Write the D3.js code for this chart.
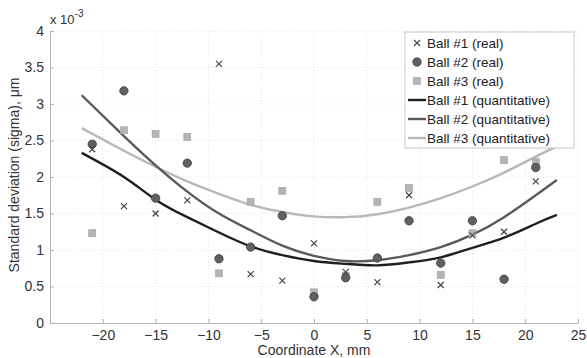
<!DOCTYPE html>
<html>
<head>
<meta charset="utf-8">
<script src="https://cdn.jsdelivr.net/npm/d3@7"></script>
<style>
  body { margin: 0; background: #fff; }
  svg { display: block; font-family: "Liberation Sans", Arial, sans-serif; }
</style>
</head>
<body>
<div id="chart"></div>
<script>
// measured positions (mm) and sigma values (x 10^-3 um)
const positions = [-21, -18, -15, -12, -9, -6, -3, 0, 3, 6, 9, 12, 15, 18, 21];
const ball1Real = [2.38, 1.60, 1.50, 1.68, 3.55, 0.67, 0.58, 1.09, 0.70, 0.56, 1.75, 0.52, 1.20, 1.25, 1.94];
const ball2Real = [2.45, 3.18, 1.71, 2.19, 0.88, 1.04, 1.47, 0.36, 0.62, 0.89, 1.40, 0.82, 1.40, 0.60, 2.13];
const ball3Real = [1.23, 2.64, 2.59, 2.55, 0.68, 1.66, 1.81, 0.42, 0.65, 1.66, 1.85, 0.66, 1.23, 2.23, 2.21];

// fitted curves
const fitX = [-22, -18, -15, -12, -9, -6, -3, 0, 3, 6, 9, 12, 15, 18, 21, 23];
const ball1Fit = [2.33, 2.00, 1.69, 1.45, 1.24, 1.05, 0.93, 0.85, 0.81, 0.79, 0.83, 0.90, 1.03, 1.17, 1.36, 1.48];
const ball2Fit = [3.12, 2.56, 2.16, 1.80, 1.50, 1.27, 1.06, 0.92, 0.85, 0.86, 0.93, 1.04, 1.21, 1.45, 1.75, 1.96];
const ball3Fit = [2.67, 2.36, 2.14, 1.94, 1.77, 1.62, 1.52, 1.46, 1.45, 1.49, 1.58, 1.71, 1.87, 2.06, 2.28, 2.42];

const xTicks = [-20, -15, -10, -5, 0, 5, 10, 15, 20, 25];
const yTicks = [0, 0.5, 1, 1.5, 2, 2.5, 3, 3.5, 4];
const legendLabels = ["Ball #1 (real)", "Ball #2 (real)", "Ball #3 (real)",
  "Ball #1 (quantitative)", "Ball #2 (quantitative)", "Ball #3 (quantitative)"];

const FONT = "'Liberation Sans', Arial, sans-serif";
const width = 587, height = 358;
const svg = d3.select("#chart").append("svg")
  .attr("width", width)
  .attr("height", height);

const x = d3.scaleLinear().domain([-25, 25]).range([50, 578]);
const y = d3.scaleLinear().domain([0, 4]).range([323, 31]);

// grid
svg.append("g").selectAll("line").data(xTicks).join("line")
  .attr("x1", d => x(d)).attr("x2", d => x(d))
  .attr("y1", y(0)).attr("y2", y(4))
  .attr("stroke", "#e4e4e4").attr("stroke-dasharray", "1,2");
svg.append("g").selectAll("line").data(yTicks.slice(1)).join("line")
  .attr("x1", x(-25)).attr("x2", x(25))
  .attr("y1", d => y(d)).attr("y2", d => y(d))
  .attr("stroke", "#e4e4e4").attr("stroke-dasharray", "1,2");

// axes
const xAxis = svg.append("g")
  .attr("transform", `translate(0,${y(0)})`)
  .call(d3.axisBottom(x).tickValues(xTicks).tickSize(-4).tickPadding(7).tickFormat(d3.format("~g")));
const yAxis = svg.append("g")
  .attr("transform", `translate(${x(-25)},0)`)
  .call(d3.axisLeft(y).tickValues(yTicks).tickSize(-4).tickPadding(6).tickFormat(d3.format("~g")));

[xAxis, yAxis].forEach(a => {
  a.attr("font-family", FONT);
  a.select(".domain").attr("stroke", "#b5b5b5");
  a.selectAll(".tick line").attr("stroke", "#b5b5b5");
  a.selectAll(".tick text").attr("fill", "#333").attr("font-size", 14);
});

// exponent
const expo = svg.append("text")
  .attr("x", 50).attr("y", 24)
  .attr("font-size", 13).attr("fill", "#333");
expo.append("tspan").text("x 10");
expo.append("tspan").attr("dy", -7).attr("font-size", 10).text("-3");

// axis titles
svg.append("text")
  .attr("x", x(0)).attr("y", 355)
  .attr("text-anchor", "middle")
  .attr("font-size", 14).attr("fill", "#333")
  .text("Coordinate X, mm");
svg.append("text")
  .attr("transform", `translate(19,${y(2) - 2}) rotate(-90)`)
  .attr("text-anchor", "middle")
  .attr("font-size", 14).attr("fill", "#333")
  .text("Standard deviation (sigma), μm");

// fitted curves
const line = d3.line()
  .x((d, i) => x(fitX[i]))
  .y(d => y(d))
  .curve(d3.curveNatural);
const fits = [
  { values: ball3Fit, color: "#b8b8b8" },
  { values: ball2Fit, color: "#5a5a5a" },
  { values: ball1Fit, color: "#1f1f1f" }
];
svg.append("g").selectAll("path").data(fits).join("path")
  .attr("d", d => line(d.values))
  .attr("fill", "none")
  .attr("stroke", d => d.color)
  .attr("stroke-width", 2.4);

// markers
function cross(g, cx, cy) {
  g.append("path")
    .attr("d", `M${cx - 3},${cy - 3}L${cx + 3},${cy + 3}M${cx - 3},${cy + 3}L${cx + 3},${cy - 3}`)
    .attr("stroke", "#444").attr("stroke-width", 1.2);
}
function circle(g, cx, cy) {
  g.append("circle").attr("cx", cx).attr("cy", cy).attr("r", 4.2)
    .attr("fill", "#606060").attr("stroke", "#3e3e3e").attr("stroke-width", 0.8);
}
function square(g, cx, cy) {
  g.append("rect").attr("x", cx - 3.5).attr("y", cy - 3.5).attr("width", 7).attr("height", 7)
    .attr("fill", "#b4b4b4").attr("stroke", "#a0a0a0").attr("stroke-width", 0.6);
}

const pts = svg.append("g");
positions.forEach((p, i) => square(pts, x(p), y(ball3Real[i])));
positions.forEach((p, i) => circle(pts, x(p), y(ball2Real[i])));
positions.forEach((p, i) => cross(pts, x(p), y(ball1Real[i])));

// legend
const lg = svg.append("g");
lg.append("rect")
  .attr("x", 405).attr("y", 32).attr("width", 169).attr("height", 116)
  .attr("fill", "#fff").attr("stroke", "#c8c8c8");
const drawKey = [
  (g, cy) => cross(g, 417, cy),
  (g, cy) => circle(g, 417, cy),
  (g, cy) => square(g, 417, cy),
  (g, cy) => g.append("line").attr("x1", 408).attr("x2", 426).attr("y1", cy).attr("y2", cy).attr("stroke", "#1f1f1f").attr("stroke-width", 2.4),
  (g, cy) => g.append("line").attr("x1", 408).attr("x2", 426).attr("y1", cy).attr("y2", cy).attr("stroke", "#5a5a5a").attr("stroke-width", 2.4),
  (g, cy) => g.append("line").attr("x1", 408).attr("x2", 426).attr("y1", cy).attr("y2", cy).attr("stroke", "#b8b8b8").attr("stroke-width", 2.4)
];
legendLabels.forEach((label, i) => {
  const cy = 43 + i * 19;
  drawKey[i](lg, cy);
  lg.append("text")
    .attr("x", 427).attr("y", cy).attr("dy", "0.35em")
    .attr("font-size", 13.5).attr("fill", "#222")
    .text(label);
});
</script>
</body>
</html>
